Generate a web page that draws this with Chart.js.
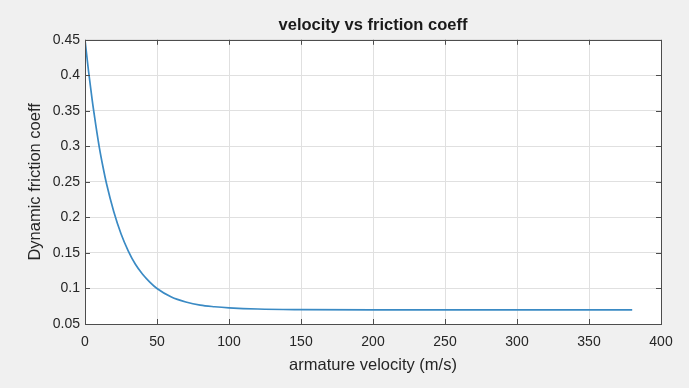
<!DOCTYPE html>
<html>
<head>
<meta charset="utf-8">
<script src="https://cdn.jsdelivr.net/npm/chart.js@4/dist/chart.umd.min.js"></script>
<style>
  html, body { margin: 0; padding: 0; background: #f0f0f0; }
  #wrap { width: 689px; height: 388px; }
</style>
</head>
<body>
<div id="wrap"><canvas id="frictionChart" width="689" height="388"></canvas></div>
<script>
// values
const velocity = [0, 2.5, 5, 7.5, 10, 12.5, 15, 20, 25, 30, 35, 40, 45, 50, 60, 70, 80, 90, 100, 120, 150, 200, 250, 300, 380];
const friction = [0.45, 0.405, 0.365, 0.33, 0.298, 0.271, 0.247, 0.208, 0.177, 0.153, 0.134, 0.12, 0.109, 0.1, 0.088, 0.081, 0.0765, 0.0743, 0.0728, 0.0711, 0.0703, 0.07, 0.07, 0.07, 0.07];
const xTicks = [0, 50, 100, 150, 200, 250, 300, 350, 400];
const yTicks = [0.05, 0.1, 0.15, 0.2, 0.25, 0.3, 0.35, 0.4, 0.45];

const points = velocity.map(function (v, i) {
  return { x: v, y: friction[i] };
});

const FONT = "'Liberation Sans', Arial, sans-serif";
const TXT = "#262626";

/* fondo gris de la figura y area blanca del grafico */
const bgPlugin = {
  id: "bg",
  beforeDraw(chart) {
    const c = chart.ctx, a = chart.chartArea;
    c.save();
    c.fillStyle = "#f0f0f0";
    c.fillRect(0, 0, chart.width, chart.height);
    c.fillStyle = "#ffffff";
    c.fillRect(a.left, a.top, a.right - a.left, a.bottom - a.top);
    c.restore();
  },
  afterDraw(chart) {
    const c = chart.ctx, a = chart.chartArea;
    const xs = chart.scales.x, ys = chart.scales.y;
    const len = 5;
    c.save();
    c.strokeStyle = "#4d4d4d";
    c.lineWidth = 1;
    c.beginPath();
    xs.ticks.forEach(function (t) {
      const px = Math.round(xs.getPixelForValue(t.value)) + 0.5;
      c.moveTo(px, a.bottom); c.lineTo(px, a.bottom - len);
      c.moveTo(px, a.top); c.lineTo(px, a.top + len);
    });
    ys.ticks.forEach(function (t) {
      const py = Math.round(ys.getPixelForValue(t.value)) + 0.5;
      c.moveTo(a.left, py); c.lineTo(a.left + len, py);
      c.moveTo(a.right, py); c.lineTo(a.right - len, py);
    });
    c.stroke();
    c.strokeRect(Math.round(a.left) + 0.5, Math.round(a.top) + 0.5,
      Math.round(a.right - a.left), Math.round(a.bottom - a.top));
    c.restore();
  }
};

const ctx = document.getElementById("frictionChart");
const chart = new Chart(ctx, {
  type: "line",
  data: {
    datasets: [
      {
        data: points,
        borderColor: "#3a8ac4",
        borderWidth: 1.7,
        pointRadius: 0,
        cubicInterpolationMode: "monotone",
        fill: false,
      },
    ],
  },
  options: {
    responsive: false,
    animation: false,
    layout: { padding: { left: 0, right: 28, top: 0, bottom: 0 } },
    plugins: {
      legend: { display: false },
      tooltip: { enabled: false },
      title: {
        display: true,
        fullSize: false,
        text: "velocity vs friction coeff",
        color: "#1a1a1a",
        font: { family: FONT, size: 16.5, weight: "bold" },
        padding: { top: 16, bottom: 4 },
      },
    },
    scales: {
      x: {
        type: "linear",
        min: 0,
        max: 400,
        afterBuildTicks(scale) {
          scale.ticks = xTicks.map(function (v) { return { value: v }; });
        },
        afterFit(scale) { scale.height = 64; },
        grid: { color: "#e0e0e0", drawTicks: false },
        border: { display: false },
        ticks: {
          color: TXT,
          padding: 10,
          maxRotation: 0,
          font: { family: FONT, size: 14 },
          callback: function (v) { return String(v); },
        },
        title: {
          display: true,
          text: "armature velocity (m/s)",
          color: TXT,
          font: { family: FONT, size: 16.5 },
          padding: { top: 0, bottom: 13 },
        },
      },
      y: {
        type: "linear",
        min: 0.05,
        max: 0.45,
        afterBuildTicks(scale) {
          scale.ticks = yTicks.map(function (v) { return { value: v }; });
        },
        afterFit(scale) { scale.width = 85; },
        grid: { color: "#e0e0e0", drawTicks: false },
        border: { display: false },
        ticks: {
          color: TXT,
          padding: 5,
          font: { family: FONT, size: 14 },
          callback: function (v) { return String(Number(v.toFixed(2))); },
        },
        title: {
          display: true,
          text: "Dynamic friction coeff",
          color: TXT,
          font: { family: FONT, size: 16.5 },
          padding: { top: 26, bottom: 0 },
        },
      },
    },
  },
  plugins: [bgPlugin],
});
</script>
</body>
</html>
